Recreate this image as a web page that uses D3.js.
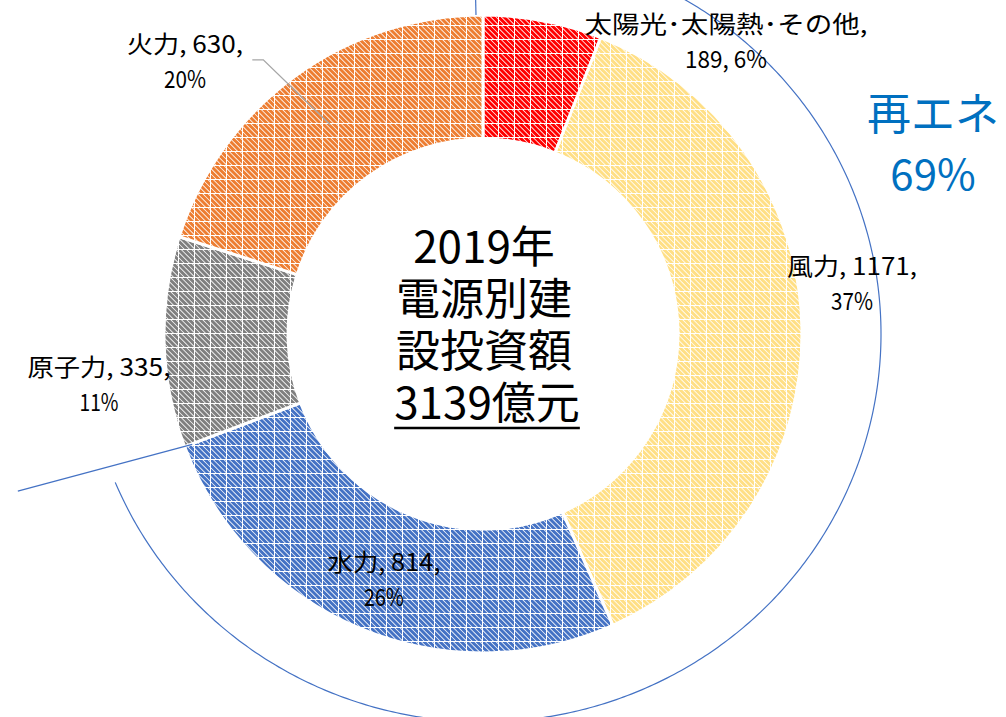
<!DOCTYPE html>
<html>
<head>
<meta charset="utf-8">
<script src="https://cdn.jsdelivr.net/npm/d3@7.9.0/dist/d3.min.js"></script>
<style>
  html, body { margin: 0; padding: 0; background: #fff; }
  svg { display: block; }
  text { font-family: "Noto Sans CJK JP", "Noto Sans", sans-serif; }
</style>
</head>
<body>
<svg id="chart" width="1006" height="717"></svg>
<script>
// data
const categories = ['太陽光･太陽熱･その他', '風力', '水力', '原子力', '火力'];
const values = [189, 1171, 814, 335, 630];
const renewables = ['太陽光･太陽熱･その他', '風力', '水力'];
const titleLines = ['2019年', '電源別建', '設投資額'];
const unitLabel = '億元';
const groupLabel = '再エネ';

// look
const sliceColors = ['#FF0000', '#FFDF85', '#4472C4', '#7F7F7F', '#ED7D31'];
const bracketColor = '#4472C4';
const groupColor = '#0070C0';

// label placement (x centre, first baseline, widths of the two lines, split style)
const labelLayout = [
  { x: 726, y: 33, w1: 283, w2: 82, split: 'name' },
  { x: 852, y: 275, w1: 130, w2: 42, split: 'value' },
  { x: 384, y: 571, w1: 113, w2: 40, split: 'value' },
  { x: 99, y: 376, w1: 143, w2: 39, split: 'value' },
  { x: 185, y: 53, w1: 116, w2: 42, split: 'value' }
];

const cx = 483, cy = 334;
const outerR = 319, innerR = 195;

const svg = d3.select('#chart');
const total = d3.sum(values);
const pct = d3.format('.0%');

const data = categories.map((c, i) => ({ name: c, value: values[i], color: sliceColors[i] }));

// 🎨 hatch patterns
const tileW = 16, tileH = 14;
const defs = svg.append('defs');
data.forEach((d, i) => {
  const p = defs.append('pattern')
    .attr('id', 'hatch' + i)
    .attr('patternUnits', 'userSpaceOnUse')
    .attr('width', tileW).attr('height', tileH);
  p.append('rect').attr('width', tileW).attr('height', tileH).attr('fill', '#fff');
  d3.range(-4, 4).forEach(k => {
    const o = k * tileW / 3;
    p.append('line')
      .attr('x1', o - 2).attr('y1', -2)
      .attr('x2', o + 20).attr('y2', 20)
      .attr('stroke', d.color)
      .attr('stroke-width', 3);
  });
  p.append('line').attr('x1', 0).attr('y1', tileH - 0.5).attr('x2', tileW).attr('y2', tileH - 0.5)
    .attr('stroke', '#fff').attr('stroke-width', 1);
  p.append('line').attr('x1', tileW - 0.5).attr('y1', 0).attr('x2', tileW - 0.5).attr('y2', tileH)
    .attr('stroke', '#fff').attr('stroke-width', 1);
});

const pie = d3.pie().value(d => d.value).sort(null);
const arcs = pie(data);
const arcGen = d3.arc().innerRadius(innerR).outerRadius(outerR);

const g = svg.append('g').attr('transform', `translate(${cx},${cy})`);

// 🍩 slices
g.selectAll('path.slice')
  .data(arcs)
  .join('path')
  .attr('class', 'slice')
  .attr('d', arcGen)
  .attr('fill', (d, i) => `url(#hatch${i})`)
  .attr('stroke', '#fff')
  .attr('stroke-width', 3);

// 🏷️ slice labels
arcs.forEach((a, i) => {
  const L = labelLayout[i];
  const share = pct(a.data.value / total);
  const lines = L.split === 'name'
    ? [`${a.data.name},`, `${a.data.value}, ${share}`]
    : [`${a.data.name}, ${a.data.value},`, share];
  lines.forEach((t, j) => {
    svg.append('text')
      .attr('x', L.x)
      .attr('y', L.y + j * 35)
      .attr('text-anchor', 'middle')
      .attr('font-size', 24)
      .attr('fill', '#000')
      .attr('textLength', j === 0 ? L.w1 : L.w2)
      .attr('lengthAdjust', 'spacingAndGlyphs')
      .text(t);
  });
});

// leader line for 火力
const fire = arcs[4];
const fireMid = (fire.startAngle + fire.endAngle) / 2;
const fp = [Math.sin(fireMid) * 259, -Math.cos(fireMid) * 259];
g.append('path')
  .attr('d', d3.line()([[fp[0] - 78, fp[1] - 65], [fp[0] - 67, fp[1] - 65], fp]))
  .attr('fill', 'none')
  .attr('stroke', '#A6A6A6')
  .attr('stroke-width', 1.3);

// 📝 centre title
const title = svg.append('g');
titleLines.forEach((t, i) => {
  title.append('text')
    .attr('x', cx + 1)
    .attr('y', 263 + i * 52)
    .attr('text-anchor', 'middle')
    .attr('font-size', 44)
    .attr('fill', '#000')
    .text(t);
});
const totalText = title.append('text')
  .attr('x', cx + 4)
  .attr('y', 419)
  .attr('text-anchor', 'middle')
  .attr('font-size', 44)
  .attr('fill', '#000')
  .text(`${total}${unitLabel}`);
const tw = totalText.node().getComputedTextLength();
title.append('line')
  .attr('x1', cx + 4 - tw / 2).attr('x2', cx + 4 + tw / 2)
  .attr('y1', 428).attr('y2', 428)
  .attr('stroke', '#000').attr('stroke-width', 2.5);

// ⤵ renewables bracket
const reArcs = arcs.filter(a => renewables.includes(a.data.name));
const a0 = d3.min(reArcs, a => a.startAngle);
const a1 = d3.max(reArcs, a => a.endAngle);
const polar = (ang, r) => [Math.sin(ang) * r, -Math.cos(ang) * r];

g.append('line')
  .attr('x1', polar(a0 - 0.022, outerR)[0]).attr('y1', polar(a0 - 0.022, outerR)[1])
  .attr('x2', polar(a0 - 0.022, 345)[0]).attr('y2', polar(a0 - 0.022, 345)[1])
  .attr('stroke', bracketColor).attr('stroke-width', 1.2);

const e0 = polar(a1 - 0.002, 311), e1 = polar(a1 + 0.035, 491);
g.append('line')
  .attr('x1', e0[0]).attr('y1', e0[1])
  .attr('x2', e1[0]).attr('y2', e1[1])
  .attr('stroke', bracketColor).attr('stroke-width', 1.2);

const rx = 398, ry = 388;
const ellipsePts = d3.range(a0 + 0.2, a1 - 0.03, 0.01).map(t => [Math.sin(t) * rx, -Math.cos(t) * ry]);
g.append('path')
  .attr('d', d3.line()(ellipsePts))
  .attr('fill', 'none')
  .attr('stroke', bracketColor)
  .attr('stroke-width', 1.2);

const reShare = d3.sum(reArcs, a => a.data.value) / total;
svg.append('text')
  .attr('x', 933).attr('y', 130)
  .attr('text-anchor', 'middle')
  .attr('font-size', 44)
  .attr('fill', groupColor)
  .text(groupLabel);
svg.append('text')
  .attr('x', 933).attr('y', 190)
  .attr('text-anchor', 'middle')
  .attr('font-size', 42)
  .attr('fill', groupColor)
  .text(pct(reShare));
</script>
</body>
</html>
